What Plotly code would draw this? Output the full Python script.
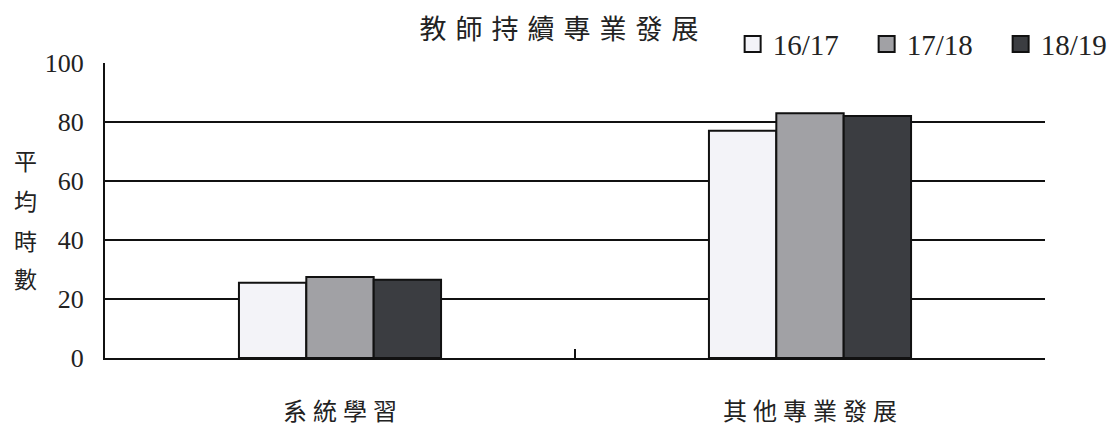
import plotly.graph_objects as go

categories = ["系統學習", "其他專業發展"]
series_names = ["16/17", "17/18", "18/19"]
values_1617 = [25.5, 77]
values_1718 = [27.5, 83]
values_1819 = [26.5, 82]
y_ticks = [0, 20, 40, 60, 80, 100]
y_title_chars = ["平", "均", "時", "數"]
title_text = "教師持續專業發展"

colors = ["#f3f3f8", "#a1a1a5", "#3b3d41"]
series_values = [values_1617, values_1718, values_1819]

serif = "Liberation Serif, DejaVu Serif, serif"
cjk = "Noto Sans CJK TC, Noto Sans CJK SC, sans-serif"

# visual letter spacing for CJK text
spaced_title = "\u2004".join(title_text)
spaced_cats = ["\u2005".join(c) for c in categories]

fig = go.Figure()
for name, vals, col in zip(series_names, series_values, colors):
    fig.add_trace(go.Bar(
        x=spaced_cats, y=vals, name=name, showlegend=False,
        marker=dict(color=col, line=dict(color="#111111", width=2)),
    ))
# legend entries with larger square symbols
for name, col in zip(series_names, colors):
    fig.add_trace(go.Scatter(
        x=[None], y=[None], name=name, mode="markers",
        marker=dict(symbol="square", size=16, color=col, line=dict(color="#111111", width=2)),
    ))

fig.update_layout(
    width=1120, height=430,
    margin=dict(l=97, r=83, t=55, b=80, autoexpand=False),
    paper_bgcolor="white", plot_bgcolor="white",
    barmode="group", bargap=0.57, bargroupgap=0,
    title=dict(text=spaced_title, xref="container", x=0.492, xanchor="center",
               yref="container", y=0.949, yanchor="middle",
               font=dict(family=cjk, size=27, color="#222")),
    legend=dict(orientation="h", xref="container", x=0.647, xanchor="left",
                yref="container", y=0.916, yanchor="middle", entrywidth=89,
                font=dict(family=serif, size=29, color="#222"), bgcolor="rgba(0,0,0,0)",
                itemwidth=30, traceorder="normal"),
    showlegend=True,
)
fig.update_yaxes(range=[0, 100], tickvals=y_ticks, showgrid=True, gridcolor="#111", gridwidth=2,
                 showline=True, linecolor="#111", linewidth=2, ticks="",
                 tickfont=dict(family=serif, size=26, color="#222"), zeroline=False,
                 ticklabelstandoff=14)
fig.update_xaxes(showline=True, linecolor="#111", linewidth=2, ticks="inside", tickson="boundaries",
                 ticklen=9, tickwidth=2, tickcolor="#111", ticklabelstandoff=31,
                 tickfont=dict(family=cjk, size=24, color="#222"))
for ch, yp in zip(y_title_chars, [0.671, 0.536, 0.40, 0.271]):
    fig.add_annotation(text=ch, xref="paper", yref="paper", x=-0.085, y=yp,
                       xanchor="center", yanchor="middle", showarrow=False,
                       font=dict(family=cjk, size=23, color="#222"))
fig.write_html("out.html")
